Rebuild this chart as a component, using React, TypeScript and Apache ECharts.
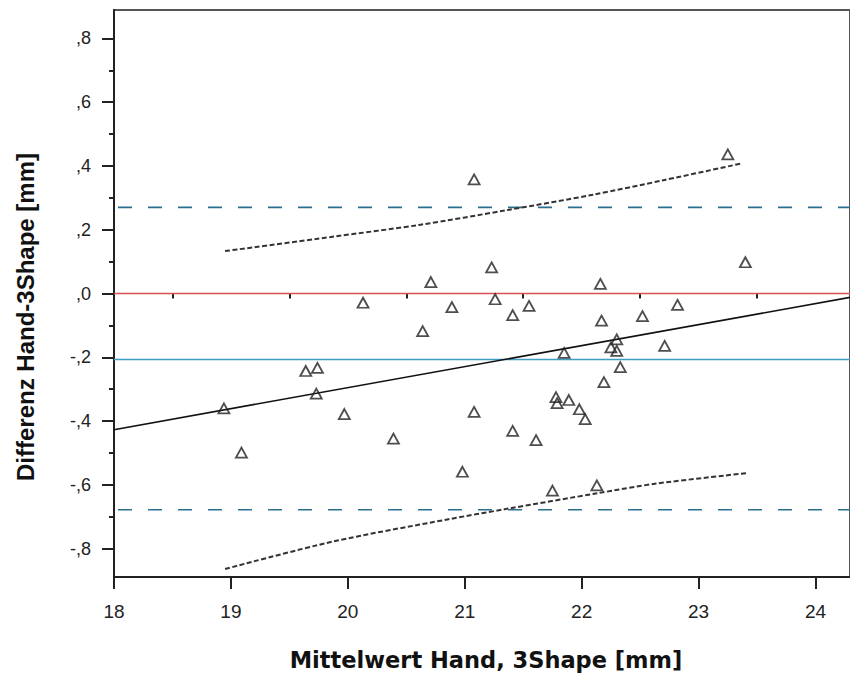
import React, { useEffect, useRef } from "react";
import * as echarts from "echarts";

// Bland-Altman data
const meanValues = [
  18.94, 19.09, 19.64, 19.74, 19.73, 19.97, 20.13, 20.39, 20.64, 20.71,
  20.89, 20.98, 21.08, 21.08, 21.23, 21.26, 21.41, 21.41, 21.55, 21.61,
  21.75, 21.78, 21.79, 21.85, 21.89, 21.98, 22.03, 22.13, 22.16, 22.17,
  22.19, 22.25, 22.30, 22.30, 22.33, 22.52, 22.71, 22.82, 23.25, 23.40,
];
const diffValues = [
  -0.360, -0.499, -0.243, -0.233, -0.314, -0.378, -0.029, -0.455, -0.118, 0.036,
  -0.043, -0.559, 0.358, -0.371, 0.082, -0.018, -0.068, -0.431, -0.039, -0.460,
  -0.618, -0.325, -0.344, -0.186, -0.334, -0.363, -0.394, -0.602, 0.030, -0.085,
  -0.278, -0.169, -0.144, -0.180, -0.231, -0.071, -0.164, -0.036, 0.436, 0.098,
];

const meanDiff = -0.207;
const upperLoA = 0.270;
const lowerLoA = -0.678;
const zeroLine = 0;

const regressionX = [18, 24.3];
const regressionY = [-0.427, -0.012];

const upperBandX = [18.95, 19.87, 20.61, 21.37, 22.10, 22.71, 23.37];
const upperBandY = [0.133, 0.178, 0.215, 0.262, 0.310, 0.356, 0.408];
const lowerBandX = [18.95, 19.87, 20.86, 21.35, 22.14, 22.64, 23.42];
const lowerBandY = [-0.864, -0.778, -0.708, -0.676, -0.626, -0.596, -0.563];

const xTicks = [18, 19, 20, 21, 22, 23, 24];
const xMinorTicks = [18.5, 19.5, 20.5, 21.5, 22.5, 23.5];
const yTicks = [-0.8, -0.6, -0.4, -0.2, 0, 0.2, 0.4, 0.6, 0.8];
const yMinorTicks = [-0.7, -0.5, -0.3, -0.1, 0.1, 0.3, 0.5, 0.7];

const X_MIN = 18;
const X_MAX = 24.295;
const Y_MIN = -0.889;
const Y_MAX = 0.889;

const xTitle = "Mittelwert Hand, 3Shape [mm]";
const yTitle = "Differenz Hand-3Shape [mm]";

function fmtY(v: number): string {
  const t = Math.round(v * 10);
  const s = "," + Math.abs(t);
  return t < 0 ? "-" + s : s;
}

export default function App() {
  const ref = useRef<HTMLDivElement>(null);
  useEffect(() => {
    if (!ref.current) return;
    const chart = echarts.init(ref.current, null, { renderer: "svg" });
    const pts = meanValues.map((x, i) => [x, diffValues[i]]);
    const hLine = (y: number) => [
      [X_MIN, y],
      [X_MAX, y],
    ];
    const zip = (xs: number[], ys: number[]) => xs.map((x, i) => [x, ys[i]]);
    const lineSeries = (data: any, color: string, width: number, type: any, extra: any = {}) => ({
      type: "line",
      data,
      showSymbol: false,
      symbol: "none",
      silent: true,
      lineStyle: { color, width, type, ...extra },
      z: 2,
    });
    chart.setOption({
      animation: false,
      backgroundColor: "#ffffff",
      grid: {
        left: 114,
        top: 10,
        right: -3,
        bottom: 109,
        show: true,
        borderColor: "#555",
        borderWidth: 2,
        backgroundColor: "transparent",
      },
      graphic: [
        {
          type: "text",
          x: 486,
          y: 660,
          style: {
            text: xTitle,
            fontSize: 22.5,
            fontWeight: "bold",
            fill: "#111",
            fontFamily: "DejaVu Sans, Verdana, sans-serif",
            align: "center",
            verticalAlign: "middle",
          },
        },
        {
          type: "text",
          x: 25,
          y: 317,
          rotation: Math.PI / 2,
          style: {
            text: yTitle,
            fontSize: 24,
            fontWeight: "bold",
            fill: "#111",
            fontFamily: "Liberation Sans, Arial, sans-serif",
            align: "center",
            verticalAlign: "middle",
          },
        },
      ],
      xAxis: [
        {
          type: "value",
          min: X_MIN,
          max: X_MAX,
          position: "bottom",
          axisLine: { show: true, onZero: false, lineStyle: { color: "#222", width: 2 } },
          axisTick: { show: true, customValues: xTicks, length: 12, lineStyle: { color: "#222", width: 2 } },
          axisLabel: {
            customValues: xTicks,
            margin: 25,
            fontSize: 19,
            color: "#222",
            fontFamily: "Liberation Sans, Arial, sans-serif",
            formatter: (v: number) => String(Math.round(v)),
          },
          splitLine: { show: false },
        },
        {
          type: "value",
          min: X_MIN,
          max: X_MAX,
          position: "bottom",
          axisLine: { show: false },
          axisTick: { show: true, customValues: xMinorTicks, length: 5, lineStyle: { color: "#222", width: 2 } },
          axisLabel: { show: false },
          splitLine: { show: false },
        },
      ],
      yAxis: [
        {
          type: "value",
          min: Y_MIN,
          max: Y_MAX,
          position: "left",
          axisLine: { show: true, onZero: false, lineStyle: { color: "#222", width: 2 } },
          axisTick: { show: true, customValues: yTicks, length: 12, lineStyle: { color: "#222", width: 2 } },
          axisLabel: {
            customValues: yTicks,
            margin: 23,
            fontSize: 18,
            color: "#222",
            fontFamily: "Liberation Sans, Arial, sans-serif",
            formatter: fmtY,
          },
          splitLine: { show: false },
        },
        {
          type: "value",
          min: Y_MIN,
          max: Y_MAX,
          position: "left",
          axisLine: { show: false },
          axisTick: { show: true, customValues: yMinorTicks, length: 5, lineStyle: { color: "#222", width: 2 } },
          axisLabel: { show: false },
          splitLine: { show: false },
        },
      ],
      series: [
        lineSeries(hLine(upperLoA), "#2b6f8e", 1.6, [14, 16], { dashOffset: 26 }),
        lineSeries(hLine(lowerLoA), "#2b6f8e", 1.6, [14, 16], { dashOffset: 26 }),
        lineSeries(hLine(zeroLine), "#d9504f", 1.5, "solid"),
        lineSeries(hLine(meanDiff), "#3f9cc2", 1.6, "solid"),
        lineSeries(zip(regressionX, regressionY), "#111", 1.6, "solid"),
        { ...lineSeries(zip(upperBandX, upperBandY), "#333", 2, [5, 2.5]), smooth: 0.3 },
        { ...lineSeries(zip(lowerBandX, lowerBandY), "#333", 2, [5, 2.5]), smooth: 0.3 },
        {
          type: "scatter",
          data: pts,
          symbol: "triangle",
          symbolSize: [11, 10],
          itemStyle: { color: "rgba(255,255,255,0)", borderColor: "#222", borderWidth: 1.8 },
          z: 5,
          silent: true,
        },
      ],
    });
    return () => chart.dispose();
  }, []);
  return (
    <div
      ref={ref}
      style={{ position: "absolute", left: 0, top: 0, width: 850, height: 686, background: "#fff" }}
    />
  );
}
